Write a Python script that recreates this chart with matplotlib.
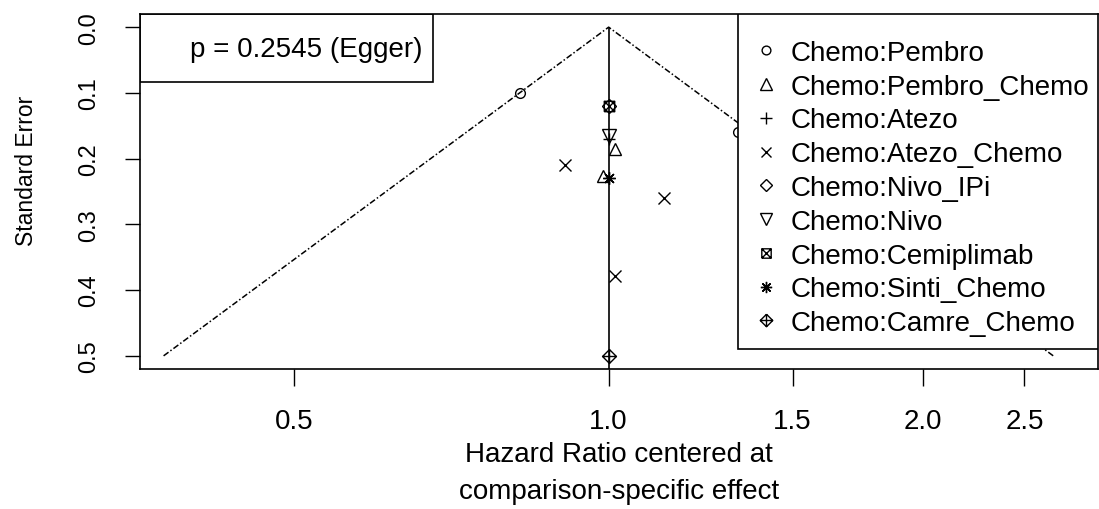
import matplotlib
matplotlib.use("Agg")
import matplotlib.pyplot as plt
from matplotlib.path import Path
from matplotlib.lines import Line2D

plt.rcParams['font.family'] = ['Liberation Sans', 'DejaVu Sans']

# comparisons and their point estimates (HR, standard error)
labels = ["Chemo:Pembro", "Chemo:Pembro_Chemo", "Chemo:Atezo", "Chemo:Atezo_Chemo",
          "Chemo:Nivo_IPi", "Chemo:Nivo", "Chemo:Cemiplimab", "Chemo:Sinti_Chemo",
          "Chemo:Camre_Chemo"]
hr = [[0.822, 1.33], [1.015, 0.987], [1.0], [0.909, 1.129, 1.015],
      [1.0], [1.0], [1.0], [1.0], [1.0]]
se = [[0.10, 0.16], [0.186, 0.227], [0.17], [0.209, 0.26, 0.379],
      [0.12], [0.165], [0.12], [0.23], [0.50]]

funnel_hr = [0.375, 1.0, 2.664]
funnel_se = [0.5, 0.0, 0.5]

xticks = [0.5, 1.0, 1.5, 2.0, 2.5]
yticks = [0.0, 0.1, 0.2, 0.3, 0.4, 0.5]

M, L = Path.MOVETO, Path.LINETO
box_x = Path([(-1, -1), (1, -1), (1, 1), (-1, 1), (-1, -1), (-1, -1), (1, 1), (-1, 1), (1, -1)],
             [M, L, L, L, L, M, L, M, L])
diamond_plus = Path([(0, 1), (1, 0), (0, -1), (-1, 0), (0, 1), (0, 1), (0, -1), (-1, 0), (1, 0)],
                    [M, L, L, L, L, M, L, M, L])
markers = ['o', '^', '+', 'x', 'D', 'v', box_x, (8, 2, 0), diamond_plus]
msizes = [7, 9, 9, 8, 7, 9.5, 7.5, 9, 10]

W, H = 1099, 510
fig = plt.figure(figsize=(W / 100, H / 100), dpi=100)
ax = fig.add_axes([140 / W, 1 - 370 / H, (1098 - 140) / W, (370 - 15) / H])

ax.set_xscale('log')
ax.set_xlim(0.356, 2.94)
ax.set_ylim(0.52, -0.02)

ax.plot(funnel_hr, funnel_se, color='black', lw=1.1, dashes=(4, 1.5, 1, 1.5))
ax.vlines(1.0, 0, 0.52, color='black', lw=1.2)

handles = []
for lab, xs, ys, mk, ms in zip(labels, hr, se, markers, msizes):
    ax.plot(xs, ys, linestyle='none', marker=mk, ms=ms, mfc='none', mec='black', mew=1)
    handles.append(Line2D([], [], linestyle='none', marker=mk, ms=ms * 0.9, mfc='none',
                          mec='black', mew=1, label=lab))

ax.set_xticks(xticks)
ax.set_xticklabels([f"{v:.1f}" for v in xticks])
ax.xaxis.set_minor_locator(matplotlib.ticker.NullLocator())
ax.set_yticks(yticks)
ax.set_yticklabels([f"{v:.1f}" for v in yticks])
ax.tick_params(axis='x', length=12, width=1, pad=16, labelsize=20)
ax.tick_params(axis='y', length=11, width=1, pad=18, labelsize=17)
plt.setp(ax.get_yticklabels(), rotation=90, va='center')
for s in ax.spines.values():
    s.set_linewidth(1.2)

ax.set_xlabel("Hazard Ratio centered at\ncomparison-specific effect", fontsize=20,
              linespacing=1.55, labelpad=5)
fig.text(27 / W, 1 - 171 / H, "Standard Error", rotation=90, ha='center', va='center',
         fontsize=16.5)

# Egger box
ax.add_patch(plt.Rectangle((140 / W, 1 - 83 / H), (433 - 140) / W, (83 - 15) / H,
                           transform=fig.transFigure, fill=False, lw=1.2, zorder=5))
fig.text(190 / W, 1 - 50 / H, "p = 0.2545 (Egger)", ha='left', va='center', fontsize=20)

# legend box (opaque, covers the right funnel arm)
ax.add_patch(plt.Rectangle((738 / W, 1 - 350 / H), (1098 - 738) / W, (350 - 15) / H,
                           transform=fig.transFigure, facecolor='white', edgecolor='black',
                           lw=1.2, zorder=4.5))
leg = ax.legend(handles=handles, loc='upper left', bbox_to_anchor=(738 / W, 1 - 27 / H),
                bbox_transform=fig.transFigure, borderaxespad=0, fontsize=20,
                frameon=False, handlelength=1.0, handletextpad=0.4,
                borderpad=0.5, labelspacing=0.28)
leg.set_zorder(5)

fig.savefig("out.png", dpi=100)
